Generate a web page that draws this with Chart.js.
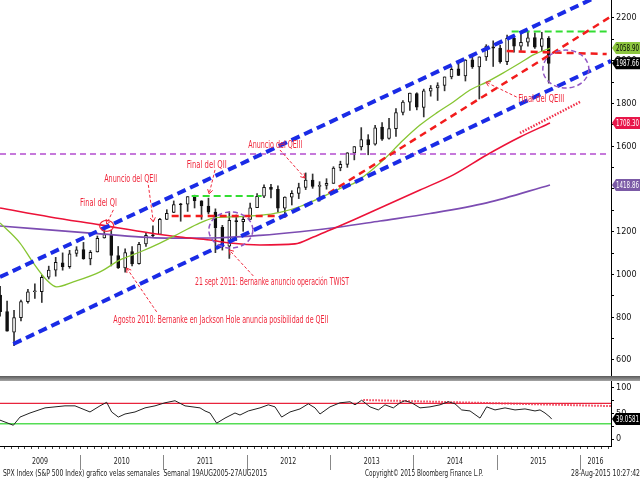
<!DOCTYPE html>
<html>
<head>
<meta charset="utf-8">
<title>SPX Index semanal</title>
<script src="https://cdn.jsdelivr.net/npm/chart.js@4.4.1/dist/chart.umd.min.js"></script>
<style>
  html,body{margin:0;padding:0;background:#fff;}
  body{width:640px;height:480px;position:relative;overflow:hidden;}
  canvas{position:absolute;left:0;display:block;}
  #main{top:0;}
  #sep{position:absolute;left:0;top:376px;width:640px;height:5px;background:linear-gradient(#5a5a5a,#a5a5a5);}
  #low{top:381px;}
</style>
</head>
<body>
<canvas id="main" width="640" height="376"></canvas>
<div id="sep"></div>
<canvas id="low" width="640" height="99"></canvas>
<script>
// ---------------- DATA ----------------
const candleMonths = [
 '2009-01','2009-02','2009-03','2009-04','2009-05','2009-06','2009-07','2009-08','2009-09','2009-10','2009-11','2009-12',
 '2010-01','2010-02','2010-03','2010-04','2010-05','2010-06','2010-07','2010-08','2010-09','2010-10','2010-11','2010-12',
 '2011-01','2011-02','2011-03','2011-04','2011-05','2011-06','2011-07','2011-08','2011-09','2011-10','2011-11','2011-12',
 '2012-01','2012-02','2012-03','2012-04','2012-05','2012-06','2012-07','2012-08','2012-09','2012-10','2012-11','2012-12',
 '2013-01','2013-02','2013-03','2013-04','2013-05','2013-06','2013-07','2013-08','2013-09','2013-10','2013-11','2013-12',
 '2014-01','2014-02','2014-03','2014-04','2014-05','2014-06','2014-07','2014-08','2014-09','2014-10','2014-11','2014-12',
 '2015-01','2015-02','2015-03','2015-04','2015-05','2015-06','2015-07','2015-08'];
const opens = [
 903,826,730,798,873,919,920,987,1020,1054,1036,1098,
 1116,1073,1105,1171,1188,1088,1031,1107,1050,1143,1185,1187,
 1257,1290,1329,1329,1365,1345,1320,1292,1220,1132,1252,1247,
 1258,1312,1366,1408,1398,1310,1362,1379,1407,1441,1412,1416,
 1426,1498,1515,1569,1597,1631,1609,1690,1636,1682,1758,1806,
 1846,1782,1857,1873,1884,1924,1962,1929,2004,1971,2018,2065,
 2059,1996,2105,2068,2087,2108,2067,2105];
const highs = [
 944,876,832,880,930,956,996,1039,1080,1101,1113,1130,
 1150,1112,1180,1220,1206,1131,1120,1130,1150,1196,1228,1263,
 1303,1344,1333,1364,1371,1345,1357,1307,1230,1293,1278,1270,
 1334,1378,1419,1422,1415,1363,1392,1427,1475,1470,1434,1448,
 1504,1530,1570,1598,1687,1654,1698,1710,1730,1776,1813,1849,
 1850,1867,1884,1897,1924,1968,1991,2005,2019,2018,2075,2093,
 2072,2120,2117,2126,2135,2130,2133,2113];
const lows = [
 805,735,667,783,866,888,869,979,992,1020,1029,1085,
 1071,1045,1105,1170,1040,1028,1011,1040,1048,1131,1173,1187,
 1257,1289,1249,1295,1311,1258,1283,1102,1114,1075,1159,1202,
 1258,1312,1359,1358,1292,1267,1325,1355,1397,1403,1343,1399,
 1426,1485,1501,1536,1582,1560,1605,1627,1633,1646,1746,1768,
 1770,1737,1834,1814,1859,1915,1930,1905,1964,1821,2001,1973,
 1988,1981,2040,2048,2068,2057,2045,1895];
const closes = [
 826,735,798,873,919,919,987,1021,1057,1036,1096,1115,
 1074,1104,1169,1187,1089,1031,1102,1049,1141,1183,1181,1258,
 1286,1327,1326,1364,1345,1321,1292,1219,1131,1253,1247,1258,
 1312,1366,1408,1398,1310,1362,1379,1407,1441,1412,1416,1426,
 1498,1515,1569,1598,1631,1606,1686,1633,1682,1757,1806,1848,
 1783,1859,1872,1884,1924,1960,1931,2003,1972,2018,2068,2059,
 1995,2105,2068,2086,2107,2063,2104,1987.66];

// moving averages (decimal year, value)
const maGreenX = [2009.04,2009.28,2009.44,2009.60,2009.72,2009.92,2010.24,2010.48,2010.72,2010.96,2011.20,2011.44,2011.60,2011.80,2012.16,2012.40,2012.64,2012.88,2013.16,2013.28,2013.60,2013.88,2014.08,2014.28,2014.48,2014.68,2014.88,2015.08,2015.28,2015.44,2015.64];
const maGreenY = [1241,1147,1054,974,942,965,1012,1068,1105,1147,1194,1241,1264,1269,1276,1290,1318,1358,1409,1425,1521,1629,1699,1756,1807,1863,1900,1943,1989,2027,2058.9];
const maRedX = [2009.04,2009.64,2010.24,2010.84,2011.20,2011.56,2011.80,2012.16,2012.58,2012.80,2013.00,2013.28,2013.68,2014.08,2014.48,2014.88,2015.28,2015.64];
const maRedY = [1311,1269,1232,1194,1175,1161,1147,1138,1143,1175,1208,1255,1325,1395,1466,1559,1643,1708.3];
const maPurpleX = [2009.04,2010.24,2011.08,2011.68,2012.16,2012.64,2013.12,2013.60,2014.20,2014.88,2015.64];
const maPurpleY = [1227,1190,1170,1172,1183,1200,1222,1250,1285,1335,1418.86];

// trend channel and levels (decimal year, value)
const channelUpperX = [2009.04,2016.372];
const channelUpperY = [988,2330];
const channelLowerX = [2009.20,2016.372];
const channelLowerY = [675,1999];
const redTrendX = [2012.86,2016.372];
const redTrendY = [1350,2207];
const purpleLevelX = [2009.04,2016.32];
const purpleLevelY = [1564,1564];
const greenTopX = [2015.18,2016.32];
const greenTopY = [2137,2137];
const redTopX = [2015.12,2016.32];
const redTopY = [2045,2031];
const greenMidX = [2011.34,2012.18];
const greenMidY = [1367,1367];
const redMidX = [2011.10,2012.52];
const redMidY = [1274,1274];
const redDottedX = [2015.28,2016.00];
const redDottedY = [1662,1807];

// RSI panel
const rsiX = [2009.04,2009.20,2009.28,2009.40,2009.58,2009.70,2009.82,2009.94,2010.06,2010.12,2010.24,2010.32,2010.38,2010.46,2010.54,2010.66,2010.78,2010.90,2011.02,2011.14,2011.26,2011.44,2011.50,2011.56,2011.64,2011.74,2011.86,2011.92,2012.02,2012.16,2012.26,2012.34,2012.42,2012.52,2012.64,2012.74,2012.82,2012.88,2013.00,2013.12,2013.24,2013.30,2013.38,2013.48,2013.58,2013.66,2013.76,2013.84,2013.90,2013.98,2014.08,2014.20,2014.32,2014.42,2014.50,2014.58,2014.68,2014.80,2014.88,2014.98,2015.10,2015.22,2015.34,2015.46,2015.52,2015.58,2015.64,2015.66];
const rsiY = [37,27,43,51,61,63,65,65,57,53,65,72,53,43,49,53,61,65,71,75,65,61,55,51,31,41,51,47,55,61,67,63,43,53,59,69,61,49,63,71,73,67,76,63,57,67,61,71,75,71,61,63,67,73,69,57,55,41,63,57,61,57,59,55,57,51,43,39.0581];
const rsiHighX = [2009.04,2016.372];
const rsiHighY = [70,70];
const rsiLowX = [2009.04,2016.372];
const rsiLowY = [30,30];
const rsiTrendX = [2013.40,2016.372];
const rsiTrendY = [76.5,64.5];

// axis ticks and labels
const priceTicks = [600,700,800,900,1000,1100,1200,1300,1400,1500,1600,1700,1800,1900,2000,2100,2200];
const priceLabelStep = 200;
const rsiTicks = [0,25,50,75,100];
const rsiLabelTicks = [0,50,100];
const yearLabels = ['2009','2010','2011','2012','2013','2014','2015','2016'];

// last values shown in the right-hand tags
const tagValues = [2058.90,1987.66,1708.30,1418.86];
const tagTexts = ['2058.90','1987.66','1708.30','1418.86'];
const rsiLast = 39.0581;
const rsiLastText = '39.0581';

// annotations in data coordinates
const notes = [
 {t:'Final del QI', x:2010.00, y:1334, w:37, a:[2010.40,1302,2010.32,1236]},
 {t:'Anuncio del QEII', x:2010.29, y:1447, w:53, a:[2010.82,1419,2010.88,1246]},
 {t:'Final del QII', x:2011.28, y:1512, w:40, a:[2011.62,1489,2011.55,1377]},
 {t:'Anuncio del QEIII', x:2012.02, y:1606, w:54, a:[2012.40,1582,2012.70,1451]},
 {t:'Agosto 2010: Bernanke en Jackson Hole anuncia posibilidad de QEII', x:2010.40, y:787, w:215, a:[2010.92,825,2010.56,1030]},
 {t:'21 sept 2011: Bernanke anuncio operación TWIST', x:2011.38, y:965, w:154, a:[2012.08,993,2011.79,1115]},
 {t:'Final del QEIII', x:2015.26, y:1821, w:46, a:[2015.24,1830,2014.87,1900]}
];
const ellipses = [
 {x:2011.81, y:1208, rx:22, ry:18},
 {x:2015.83, y:1961, rx:23, ry:19}
];
const qiMark = {x:2010.32, y:1227};

const footerLeft = 'SPX Index (S&P 500 Index) grafico velas semanales  Semanal 19AUG2005-27AUG2015';
const footerMid = 'Copyright© 2015 Bloomberg Finance L.P.';
const footerRight = '28-Aug-2015 10:27:42';

// ---------------- RENDERING ----------------
const FONT = "'Liberation Sans Narrow','DejaVu Sans Condensed','Liberation Sans',sans-serif";
const X_MIN = 2009.04, X_MAX = 2016.372;
const RED_TXT = '#f0283c';

function pts(xs, ys){ return xs.map((x,i)=>({x:x, y:ys[i]})); }
function lineDs(data, color, width, dash, order, mono){
  return {type:'line', data:data, borderColor:color, borderWidth:width, borderDash:dash||[],
    pointRadius:0, fill:false, tension:0, order:order, borderCapStyle:'butt',
    cubicInterpolationMode: mono ? 'monotone' : 'default'};
}

const candleX = candleMonths.map(m => { const p = m.split('-').map(Number); return p[0] + (p[1]-0.5)/12; });
const wickData = candleX.map((x,i)=>({x:x, y:[lows[i], highs[i]]}));
const bodyData = candleX.map((x,i)=>({x:x, y:[opens[i], closes[i]]}));
const bodyFill = opens.map((o,i)=> closes[i] >= o ? '#ffffff' : '#111111');

function arrow(ctx, x1, y1, x2, y2){
  ctx.setLineDash([3,2]);
  ctx.beginPath(); ctx.moveTo(x1,y1); ctx.lineTo(x2,y2); ctx.stroke();
  ctx.setLineDash([]);
  const a = Math.atan2(y2-y1, x2-x1), L = 5;
  ctx.beginPath();
  ctx.moveTo(x2 - L*Math.cos(a-0.55), y2 - L*Math.sin(a-0.55));
  ctx.lineTo(x2, y2);
  ctx.lineTo(x2 - L*Math.cos(a+0.55), y2 - L*Math.sin(a+0.55));
  ctx.stroke();
}
function tag(ctx, yc, text, bg, fg){
  const x0 = 612, x1 = 640, h = 12;
  ctx.fillStyle = bg;
  ctx.beginPath();
  ctx.moveTo(x0, yc); ctx.lineTo(x0+4, yc-h/2); ctx.lineTo(x1, yc-h/2);
  ctx.lineTo(x1, yc+h/2); ctx.lineTo(x0+4, yc+h/2); ctx.closePath(); ctx.fill();
  ctx.fillStyle = fg; ctx.font = '9px ' + FONT;
  ctx.textAlign = 'left'; ctx.textBaseline = 'middle';
  ctx.fillText(text, x0+4, yc+0.5, x1-x0-5);
}

const tagColors = [['#8dc63f','#000'],['#000','#fff'],['#e8174a','#fff'],['#7b5aa6','#fff']];

const mainDecor = {
  id:'mainDecor',
  afterDatasetsDraw(chart){
    const ctx = chart.ctx, xs = chart.scales.x, ys = chart.scales.y;
    const ca = chart.chartArea;
    ctx.save();
    ctx.beginPath(); ctx.rect(ca.left, ca.top, ca.right-ca.left, ca.bottom-ca.top); ctx.clip();
    // purple dashed ellipses
    ctx.strokeStyle = '#9256c4'; ctx.lineWidth = 1.5; ctx.setLineDash([5,3]);
    ellipses.forEach(e => {
      ctx.beginPath();
      ctx.ellipse(xs.getPixelForValue(e.x), ys.getPixelForValue(e.y), e.rx, e.ry, 0, 0, Math.PI*2);
      ctx.stroke();
    });
    ctx.setLineDash([]);
    // red mark around the QI peak
    ctx.strokeStyle = RED_TXT; ctx.lineWidth = 1.2;
    ctx.beginPath();
    ctx.ellipse(xs.getPixelForValue(qiMark.x), ys.getPixelForValue(qiMark.y), 7, 5.5, 0, 0, Math.PI*2);
    ctx.stroke();
    // annotations
    ctx.strokeStyle = RED_TXT; ctx.fillStyle = RED_TXT; ctx.lineWidth = 1;
    ctx.font = '10px ' + FONT; ctx.textAlign = 'left'; ctx.textBaseline = 'middle';
    notes.forEach(n => {
      ctx.fillText(n.t, xs.getPixelForValue(n.x), ys.getPixelForValue(n.y), n.w);
      arrow(ctx, xs.getPixelForValue(n.a[0]), ys.getPixelForValue(n.a[1]),
                 xs.getPixelForValue(n.a[2]), ys.getPixelForValue(n.a[3]));
    });
    ctx.restore();
  },
  afterDraw(chart){
    const ctx = chart.ctx, ys = chart.scales.y;
    ctx.save();
    tagValues.forEach((v,i) => tag(ctx, ys.getPixelForValue(v), tagTexts[i], tagColors[i][0], tagColors[i][1]));
    ctx.restore();
  }
};

new Chart(document.getElementById('main'), {
  type:'line',
  data:{ datasets:[
    lineDs(pts(channelUpperX, channelUpperY), '#1a2be6', 4, [9,5], 1),
    lineDs(pts(channelLowerX, channelLowerY), '#1a2be6', 4, [9,5], 1),
    lineDs(pts(redTrendX, redTrendY), '#f21c1c', 2.5, [7,5], 2),
    lineDs(pts(redTopX, redTopY), '#f21c1c', 2.5, [7,5], 2),
    lineDs(pts(redMidX, redMidY), '#f21c1c', 2.5, [7,5], 2),
    lineDs(pts(greenTopX, greenTopY), '#33dd33', 2, [7,4], 3),
    lineDs(pts(greenMidX, greenMidY), '#33dd33', 2, [7,4], 3),
    lineDs(pts(purpleLevelX, purpleLevelY), '#b44ed0', 1.5, [6,4], 4),
    lineDs(pts(redDottedX, redDottedY), '#f0304a', 2.5, [1.5,1.5], 5),
    lineDs(pts(maGreenX, maGreenY), '#86c532', 1.3, [], 6, true),
    lineDs(pts(maRedX, maRedY), '#ec1238', 1.6, [], 6, true),
    lineDs(pts(maPurpleX, maPurpleY), '#7c4cb2', 1.6, [], 6, true),
    {type:'bar', data:bodyData, backgroundColor:bodyFill, borderColor:'#111', borderWidth:1,
      borderSkipped:false, barThickness:3, grouped:false, minBarLength:1, order:7},
    {type:'bar', data:wickData, backgroundColor:'#333', borderWidth:0, barThickness:1, grouped:false, order:8}
  ]},
  options:{
    responsive:false, animation:false, events:[],
    layout:{padding:0},
    plugins:{legend:{display:false}, tooltip:{enabled:false}},
    scales:{
      x:{type:'linear', min:X_MIN, max:X_MAX, display:false, offset:false},
      y:{type:'linear', position:'right', min:525, max:2284,
        afterBuildTicks: s => { s.ticks = priceTicks.map(v => ({value:v})); },
        afterFit: s => { s.width = 29; s.paddingTop = 0; s.paddingBottom = 0; },
        grid:{drawOnChartArea:false, drawTicks:true, tickLength:3, color:'#000'},
        border:{display:true, color:'#000', width:1},
        ticks:{padding:2, color:'#111', autoSkip:false, font:{size:9, family:FONT},
          callback: v => (v % priceLabelStep === 0 ? String(v) : '')}
      }
    }
  },
  plugins:[mainDecor]
});

const lowDecor = {
  id:'lowDecor',
  afterDraw(chart){
    const ctx = chart.ctx, xs = chart.scales.x, ys = chart.scales.y, ca = chart.chartArea;
    ctx.save();
    // bottom axis line + monthly ticks
    ctx.strokeStyle = '#000'; ctx.lineWidth = 1;
    ctx.beginPath(); ctx.moveTo(ca.left, ca.bottom+0.5); ctx.lineTo(ca.right, ca.bottom+0.5); ctx.stroke();
    ctx.strokeStyle = '#444';
    for (let yr = 2009; yr <= 2016; yr++) {
      for (let m = 0; m < 12; m++) {
        const v = yr + m/12;
        if (v < X_MIN || v > X_MAX) continue;
        const px = Math.round(xs.getPixelForValue(v)) + 0.5;
        ctx.beginPath(); ctx.moveTo(px, ca.bottom+1); ctx.lineTo(px, ca.bottom+3); ctx.stroke();
      }
    }
    // year separators and labels
    ctx.strokeStyle = '#888';
    ctx.fillStyle = '#222'; ctx.font = '9.5px ' + FONT; ctx.textAlign = 'center'; ctx.textBaseline = 'middle';
    yearLabels.forEach(lbl => {
      const yr = Number(lbl);
      if (yr > X_MIN) {
        const px = Math.round(xs.getPixelForValue(yr)) + 0.5;
        ctx.beginPath(); ctx.moveTo(px, ca.bottom+9); ctx.lineTo(px, ca.bottom+24); ctx.stroke();
      }
      const a = Math.max(yr, X_MIN), b = Math.min(yr+1, X_MAX);
      ctx.fillText(lbl, xs.getPixelForValue((a+b)/2), ca.bottom+16, 16);
    });
    // footer
    ctx.font = '9px ' + FONT; ctx.fillStyle = '#222'; ctx.textBaseline = 'middle';
    ctx.textAlign = 'left';
    ctx.fillText(footerLeft, 3, 93, 264);
    ctx.fillText(footerMid, 365, 93, 118);
    ctx.textAlign = 'right';
    ctx.fillText(footerRight, 640, 93, 69);
    // last value tag
    tag(ctx, ys.getPixelForValue(rsiLast), rsiLastText, '#000', '#fff');
    ctx.restore();
  }
};

new Chart(document.getElementById('low'), {
  type:'line',
  data:{ datasets:[
    lineDs(pts(rsiX, rsiY), '#222', 1, [], 1),
    lineDs(pts(rsiTrendX, rsiTrendY), '#f0304a', 2, [1.5,1.5], 2),
    lineDs(pts(rsiHighX, rsiHighY), '#e8243c', 1.2, [], 3),
    lineDs(pts(rsiLowX, rsiLowY), '#55dd55', 1.5, [], 3)
  ]},
  options:{
    responsive:false, animation:false, events:[],
    layout:{padding:{top:0, bottom:34, left:0, right:0}},
    plugins:{legend:{display:false}, tooltip:{enabled:false}},
    scales:{
      x:{type:'linear', min:X_MIN, max:X_MAX, display:false, offset:false},
      y:{type:'linear', position:'right', min:-13.7, max:113.7,
        afterBuildTicks: s => { s.ticks = rsiTicks.map(v => ({value:v})); },
        afterFit: s => { s.width = 29; s.paddingTop = 0; s.paddingBottom = 0; },
        grid:{drawOnChartArea:false, drawTicks:true, tickLength:3, color:'#000'},
        border:{display:true, color:'#000', width:1},
        ticks:{padding:2, color:'#111', autoSkip:false, font:{size:9, family:FONT},
          callback: v => (rsiLabelTicks.includes(v) ? String(v) : '')}
      }
    }
  },
  plugins:[lowDecor]
});
</script>
</body>
</html>
